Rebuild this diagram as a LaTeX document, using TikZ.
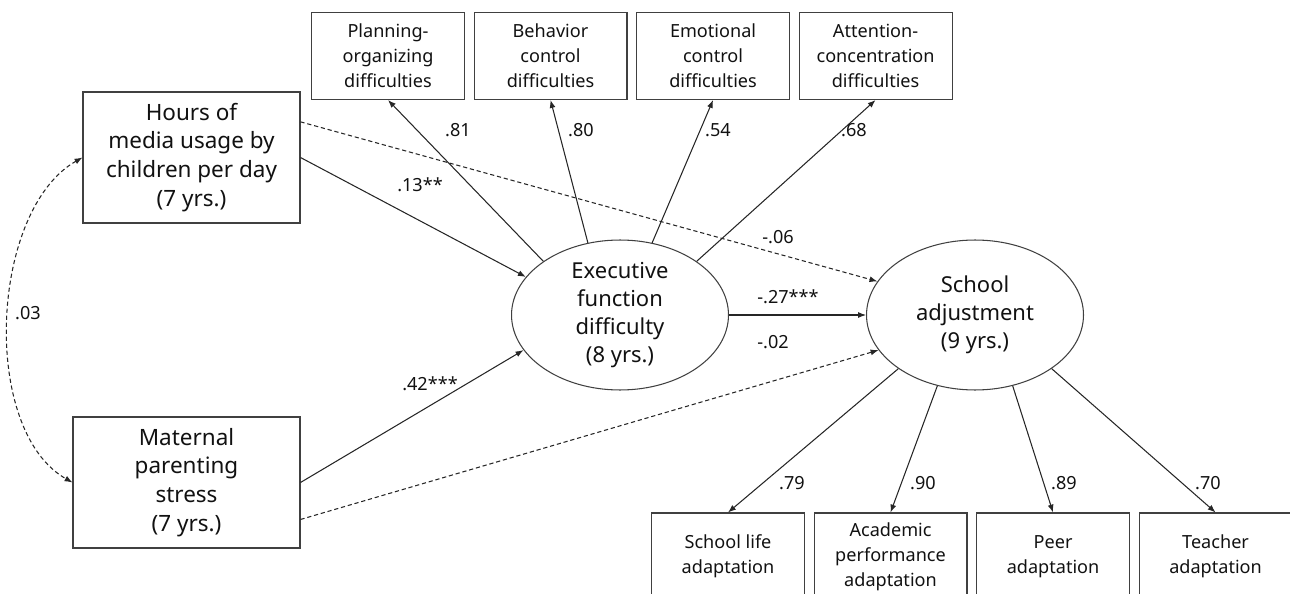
\documentclass[tikz,border=0pt]{standalone}
\usepackage{fontspec}
\setmainfont{Noto Sans}
\usetikzlibrary{arrows.meta,positioning,shapes.geometric,calc}
\definecolor{linegray}{HTML}{404040}
\definecolor{textdark}{HTML}{111111}
\tikzset{
  >=Latex,
  obsbox/.style={
    rectangle, draw=linegray, line width=0.6pt, align=center, inner sep=0pt,
    minimum height=2.62cm, font=\fontsize{12.8pt}{16.4pt}\selectfont, text=textdark
  },
  indbox/.style={
    rectangle, draw=linegray, line width=0.6pt, align=center, inner sep=0pt,
    minimum width=3.06cm, minimum height=1.74cm,
    font=\fontsize{10.3pt}{14.2pt}\selectfont, text=textdark
  },
  latent/.style={
    ellipse, draw=linegray, line width=0.6pt, align=center, inner sep=0pt,
    minimum width=4.34cm, minimum height=3cm,
    font=\fontsize{12.5pt}{15.9pt}\selectfont, text=textdark
  },
  arrow/.style={-{Latex[length=4.5pt,width=3.4pt]}, line width=0.6pt, draw=black!85},
  darrow/.style={arrow, dash pattern=on 2.4pt off 1.6pt},
  coef/.style={font=\fontsize{10.3pt}{12pt}\selectfont, text=textdark, inner sep=0pt}
}

\begin{document}
\begin{tikzpicture}[x=0.02cm, y=-0.02cm]
\useasboundingbox (0,0) rectangle (1290,594);
\clip (0,0) rectangle (1290,594);
% observed predictors
\node[obsbox, minimum width=4.34cm] (hours) at (191.5,157.5) {Hours of\\media usage by\\children per day\\(7 yrs.)};
\node[obsbox, minimum width=4.54cm] (stress) at (186.5,482.5) {Maternal\\parenting\\stress\\(7 yrs.)};
% latent variables
\node[latent] (efd) at (620,315) {Executive\\function\\difficulty\\(8 yrs.)};
\node[latent] (school) at (975,315) {School\\adjustment\\(9 yrs.)};
% indicators
\node[indbox] (plan) at (388,56) {Planning-\\organizing\\difficulties};
\node[indbox, right=0.17cm of plan] (behav) {Behavior\\control\\difficulties};
\node[indbox, right=0.17cm of behav] (emot) {Emotional\\control\\difficulties};
\node[indbox, right=0.17cm of emot] (attn) {Attention-\\concentration\\difficulties};
\node[indbox] (life) at (728,556.5) {School life\\adaptation};
\node[indbox, right=0.17cm of life] (acad) {Academic\\performance\\adaptation};
\node[indbox, right=0.17cm of acad] (peer) {Peer\\adaptation};
\node[indbox, right=0.17cm of peer] (teach) {Teacher\\adaptation};
% loadings
\draw[arrow] (efd.145) -- (plan.south);
\draw[arrow] (efd.114) -- (behav.south);
\draw[arrow] (efd.66) -- (emot.south);
\draw[arrow] (efd.35) -- (attn.south);
\draw[arrow] (school.215) -- (life.north);
\draw[arrow] (school.242) -- (acad.north);
\draw[arrow] (school.298) -- (peer.north);
\draw[arrow] (school.325) -- (teach.north);
% structural paths
\draw[arrow] (hours.east) -- (efd.158);
\draw[arrow] (stress.east) -- (efd.200);
\draw[arrow] (efd.east) -- (school.west);
\draw[darrow] ($(hours.north east)!0.23!(hours.south east)$) -- (school.161);
\draw[darrow] ($(stress.north east)!0.78!(stress.south east)$) -- (school.200);
\draw[darrow, {Latex[length=4.5pt,width=3.4pt]}-{Latex[length=4.5pt,width=3.4pt]}]
  (hours.west) .. controls (-10,210) and (-20,430) .. (stress.west);
% coefficients
\node[coef] (c81) at (458,130) {.81};
\node[coef] (c80) at (581,130) {.80};
\node[coef] (c54) at (718,130) {.54};
\node[coef] (c68) at (854,130) {.68};
\node[coef] (c13) at (420,185) {.13**};
\node[coef] (c06) at (778,237) {-.06};
\node[coef] (c27) at (788,297) {-.27***};
\node[coef] (c02) at (773,342) {-.02};
\node[coef] (c42) at (430,384) {.42***};
\node[coef] (c03) at (28,313) {.03};
\node[coef] (c79) at (792,483) {.79};
\node[coef] (c90) at (923,483) {.90};
\node[coef] (c89) at (1064,483) {.89};
\node[coef] (c70) at (1208,483) {.70};
\end{tikzpicture}
\end{document}
